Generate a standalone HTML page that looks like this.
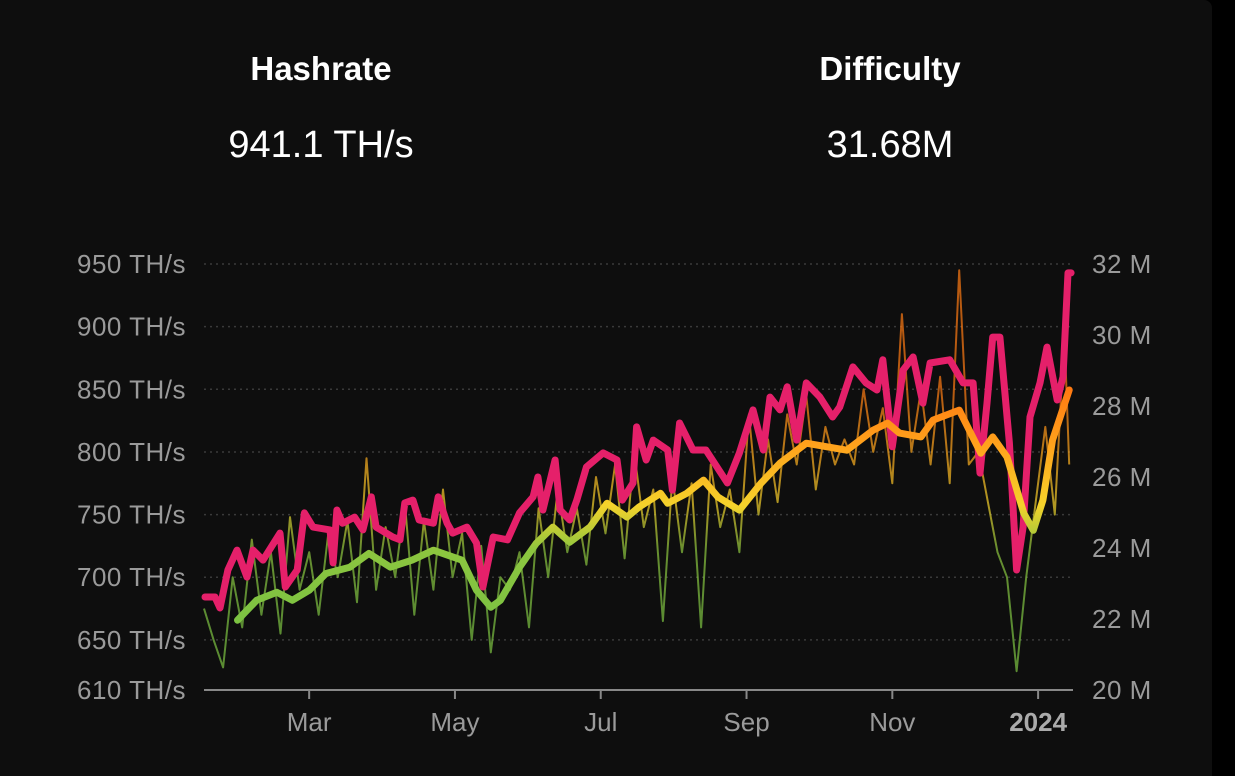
<!DOCTYPE html>
<html><head><meta charset="utf-8">
<style>
html,body{margin:0;padding:0;background:#000;}
body{width:1235px;height:776px;overflow:hidden;position:relative;font-family:"Liberation Sans",sans-serif;}
#card{position:absolute;left:0;top:0;width:1212px;height:776px;background:#0e0e0e;border-top-right-radius:8px;}
.t{position:absolute;color:#fff;text-align:center;width:360px;}
.h{font-weight:bold;font-size:33px;top:50px;}
.v{font-size:38px;top:124px;}
svg{position:absolute;left:0;top:0;}
</style></head><body>
<div id="card"></div>
<div class="t h" style="left:141px">Hashrate</div>
<div class="t v" style="left:141px">941.1 TH/s</div>
<div class="t h" style="left:710px">Difficulty</div>
<div class="t v" style="left:710px">31.68M</div>
<svg id="chart" width="1235" height="776"></svg>
<script>
const leftTicks=[950,900,850,800,750,700,650,610];
const leftTickLabels=["950 TH/s","900 TH/s","850 TH/s","800 TH/s","750 TH/s","700 TH/s","650 TH/s","610 TH/s"];
const rightTicks=[32,30,28,26,24,22,20];
const rightTickLabels=["32 M","30 M","28 M","26 M","24 M","22 M","20 M"];
const monthTickDays=[44,105,166,227,288,349];
const monthTickLabels=["Mar","May","Jul","Sep","Nov","2024"];
// days since 2023-01-16
const rawDays=[0,4,8,12,16,20,24,28,32,36,40,44,48,52,56,60,64,68,72,76,80,84,88,92,96,100,104,108,112,116,120,124,128,132,136,140,144,148,152,156,160,164,168,172,176,180,184,188,192,196,200,204,208,212,216,220,224,228,232,236,240,244,248,252,256,260,264,268,272,276,280,284,288,292,296,300,304,308,312,316,320,324,328,332,336,340,344,348,352,356,360,362];
const rawHash=[675,650,628,700,660,730,670,720,655,748,690,720,670,735,700,745,680,795,690,740,700,760,670,745,690,770,700,735,650,725,640,700,690,720,660,755,700,770,720,755,710,780,735,790,715,800,740,770,665,780,720,775,660,790,740,770,720,830,750,810,760,830,790,845,770,820,790,810,790,850,800,835,775,910,800,850,790,860,775,945,790,800,760,720,700,625,700,760,820,750,895,790];
const smoothDays=[14,22,30.5,37,44,51,61,69,78,87,96,108,114,120,124,132,139,146,153,161.5,168.6,177,182,191,194,202,209,215,224,233,241,252,261,269,280,286,291,300,305,316,325,330,336,343,347,351,355,362];
const smoothHash=[665.7,681.6,688,681.6,689.6,703,708,719,708,713.6,721.6,713.6,689.6,676,681.6,708,727,740,728,740,759,748,756,767,759,767,777.5,764,753.5,775,791,807,804,801.4,817.4,823,815,812,825.4,833.4,799,812,796,751,737.5,761.5,809.4,849.4];
const diffDays=[0.4,4.6,6.7,10,13.8,18,20.5,24.7,31.8,34,39,42,45.6,52.7,54,55.6,58,63,66.5,70,72,79,82,84,87.4,90,96,98,101.7,104,110,114,116.7,121,127,132,137.7,139.7,141.8,146.9,149,153,156,160,167,172.8,175,179.5,181,185,188,194,196,199,204.6,210,219,224,229.7,234,236.8,241,244,248,252,257.7,263,266,271.5,277,281.6,284,288,292.5,296.7,300.8,303.8,312,317.6,321.8,324.7,327.6,330,333,337,340,342.7,345.6,349.8,352.7,357,359.4,361.5,362.8];
const diffM=[22.62,22.62,22.31,23.38,23.94,23.18,23.94,23.66,24.42,22.90,23.38,24.99,24.59,24.51,23.58,25.07,24.70,24.87,24.51,25.44,24.59,24.31,24.23,25.27,25.35,24.79,24.70,25.44,24.70,24.42,24.59,24.14,22.90,24.31,24.23,24.99,25.44,26.0,25.07,26.48,25.07,24.79,25.35,26.28,26.68,26.48,25.35,25.83,27.41,26.48,27.04,26.76,25.63,27.52,26.76,26.76,25.83,26.68,27.89,26.76,28.25,27.89,28.54,27.04,28.65,28.25,27.69,27.97,29.10,28.65,28.45,29.30,26.85,29.01,29.38,28.08,29.21,29.30,28.65,28.65,26.11,28.08,29.94,29.94,26.96,23.38,24.59,27.69,28.65,29.66,28.17,28.82,31.75,31.75];

const NS="http://www.w3.org/2000/svg";
const svg=document.getElementById('chart');
const X0=204,X1=1073,PX_PER_DAY=2.39;
const xS=d=>X0+d*PX_PER_DAY;
const yL=v=>264+(950-v)/340*426;
const yR=v=>264+(32-v)/12*426;
function mk(tag,attrs){const e=document.createElementNS(NS,tag);for(const k in attrs)e.setAttribute(k,attrs[k]);svg.appendChild(e);return e;}
const defs=mk('defs',{});
defs.innerHTML='<linearGradient id="hg" gradientUnits="userSpaceOnUse" x1="0" y1="620" x2="0" y2="390"><stop offset="0" stop-color="#7cc242"/><stop offset="0.3" stop-color="#8cc63f"/><stop offset="0.5" stop-color="#f5d22b"/><stop offset="0.75" stop-color="#ffa41c"/><stop offset="1" stop-color="#ff7a12"/></linearGradient>';
leftTicks.forEach((v,i)=>{
  if(i<leftTicks.length-1){const g=mk('line',{x1:X0,x2:X1,y1:yL(v),y2:yL(v),stroke:'#3a3a3a','stroke-width':1.5,'stroke-dasharray':'2 4'});
  }
  const t=mk('text',{x:186,y:yL(v)+9,'text-anchor':'end',fill:'#9a9a9a','font-size':26,'letter-spacing':0.5,'font-family':'Liberation Sans, sans-serif'});
  t.textContent=leftTickLabels[i];
  
});
rightTicks.forEach((v,i)=>{
  const t=mk('text',{x:1092,y:yR(v)+9,fill:'#9a9a9a','font-size':26,'letter-spacing':0.5,'font-family':'Liberation Sans, sans-serif'});
  t.textContent=rightTickLabels[i];
  
});
const ax=mk('line',{x1:X0,x2:X1,y1:690,y2:690,stroke:'#888','stroke-width':2});

monthTickDays.forEach((d,i)=>{
  const tk=mk('line',{x1:xS(d),x2:xS(d),y1:690,y2:699,stroke:'#888','stroke-width':2});
  
  const t=mk('text',{x:xS(d),y:731,'text-anchor':'middle',fill:i==5?'#aaa':'#9a9a9a','font-size':26,'font-weight':i==5?'bold':'normal','font-family':'Liberation Sans, sans-serif'});
  t.textContent=monthTickLabels[i];
  
});
function pts(ds,vs,yf){return ds.map((d,i)=>xS(d).toFixed(1)+','+yf(vs[i]).toFixed(1)).join(' ');}
const raw=mk('polyline',{points:pts(rawDays,rawHash,yL),fill:'none',stroke:'url(#hg)','stroke-width':2,opacity:0.7,'stroke-linejoin':'round'});

const df=mk('polyline',{points:pts(diffDays,diffM,yR),fill:'none',stroke:'#e5206a','stroke-width':7,'stroke-linejoin':'round','stroke-linecap':'round'});

const sm=mk('polyline',{points:pts(smoothDays,smoothHash,yL),fill:'none',stroke:'url(#hg)','stroke-width':7,'stroke-linejoin':'round','stroke-linecap':'round'});

</script>
</body></html>
